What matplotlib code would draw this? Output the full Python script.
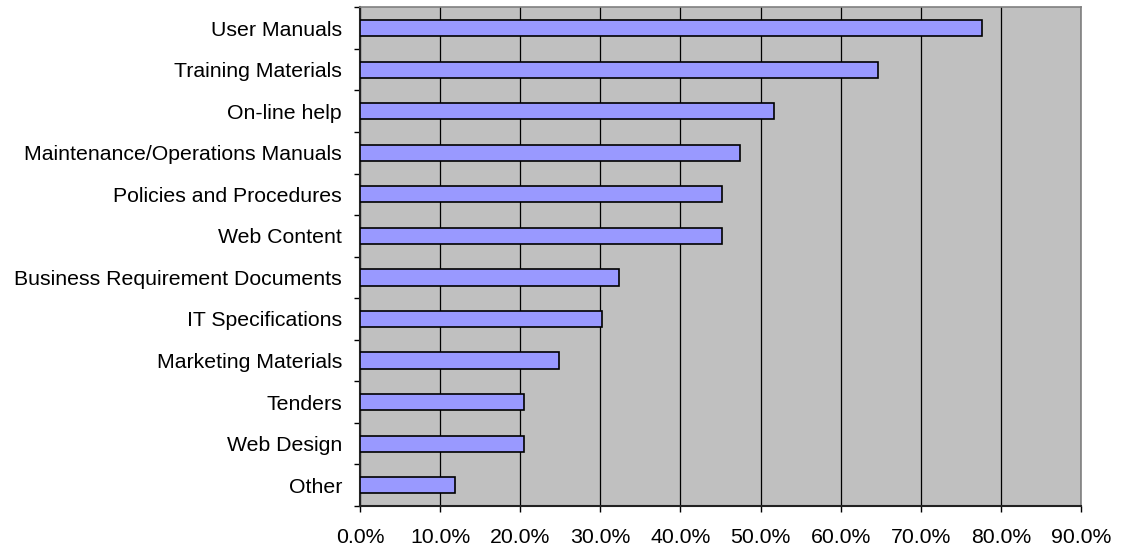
import matplotlib
matplotlib.use('Agg')
import matplotlib.pyplot as plt
import numpy as np
from matplotlib.ticker import FixedLocator, PercentFormatter

plt.rcParams['font.family'] = ['Liberation Sans', 'DejaVu Sans']

categories = ['User Manuals', 'Training Materials', 'On-line help',
              'Maintenance/Operations Manuals', 'Policies and Procedures',
              'Web Content', 'Business Requirement Documents',
              'IT Specifications', 'Marketing Materials', 'Tenders',
              'Web Design', 'Other']
values = [77.6, 64.7, 51.7, 47.4, 45.2, 45.2, 32.3, 30.2, 24.8, 20.5, 20.5, 11.9]
xticks = [0, 10, 20, 30, 40, 50, 60, 70, 80, 90]

fig = plt.figure(figsize=(11.22, 5.51), dpi=100)
ax = fig.add_axes([360/1122, 1 - 506/551, 721/1122, (506 - 7.3)/551])
ax.set_facecolor('#C0C0C0')

y = np.arange(len(categories))
ax.barh(y, values, height=0.39, color='#9999FF', edgecolor='black', linewidth=1.2, zorder=3)

ax.set_xlim(0, 90)
ax.set_ylim(len(categories) - 0.5, -0.5)

ax.set_xticks(xticks)
ax.xaxis.set_major_formatter(PercentFormatter(decimals=1))
ax.xaxis.grid(True, color='black', linewidth=0.9, zorder=1)
ax.set_axisbelow(True)

ax.set_yticks(y)
ax.set_yticklabels(categories)
ax.yaxis.set_minor_locator(FixedLocator(np.arange(-0.5, len(categories), 1)))
ax.tick_params(axis='y', which='major', length=0, pad=13, labelsize=15.3)
ax.tick_params(axis='y', which='minor', length=4.5, width=1, direction='out')
ax.tick_params(axis='x', which='major', length=4.5, width=1, pad=11, labelsize=15.3)

for s in ['top', 'right']:
    ax.spines[s].set_color('#808080')
    ax.spines[s].set_linewidth(1.2)
for s in ['left', 'bottom']:
    ax.spines[s].set_color('#222222')
    ax.spines[s].set_linewidth(1.5)

fig.savefig('out.png', dpi=100)
